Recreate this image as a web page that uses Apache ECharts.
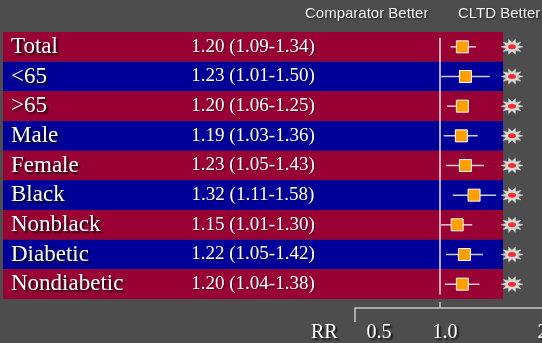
<!DOCTYPE html>
<html>
<head>
<meta charset="utf-8">
<script src="https://cdn.jsdelivr.net/npm/echarts@6/dist/echarts.min.js"></script>
<style>
  html, body { margin: 0; padding: 0; background: #4d4d4d; }
  #chart { width: 542px; height: 343px; }
</style>
</head>
<body>
<div id="chart"></div>
<script>
// Subgroup rows of the forest plot
const rows = ['Total', '<65', '>65', 'Male', 'Female', 'Black', 'Nonblack', 'Diabetic', 'Nondiabetic'];
// Relative risk and its 95% interval per row
const rr   = [1.20, 1.23, 1.20, 1.19, 1.23, 1.32, 1.15, 1.22, 1.20];
const ciLo = [1.09, 1.01, 1.06, 1.03, 1.05, 1.11, 1.01, 1.05, 1.04];
const ciHi = [1.34, 1.50, 1.25, 1.36, 1.43, 1.58, 1.30, 1.42, 1.38];
// Rows flagged with the burst marker
const flagged = [true, true, true, true, true, true, true, true, true];
// Axis text
const axisTitle = 'RR';
const leftHeader = 'Comparator Better';
const rightHeader = 'CLTD Better';
const refValue = 1;

const CRIMSON = '#990033';
const NAVY = '#000099';
const SERIF = "'Liberation Serif', 'Times New Roman', serif";
const SANS = "'Liberation Sans', Arial, sans-serif";
const AXIS_MIN = 0.5, AXIS_MAX = 2.297;

// spiky burst outline for the flag marker
function burstPath(n, rIn) {
  let d = '';
  for (let k = 0; k < 2 * n; k++) {
    const r = k % 2 ? rIn : 1;
    const a = Math.PI * k / n;
    d += (k ? 'L' : 'M') + (50 + 50 * r * Math.cos(a)).toFixed(2) + ' ' + (50 + 50 * r * Math.sin(a)).toFixed(2);
  }
  return 'path://' + d + 'Z';
}

const shadow = { textShadowColor: 'rgba(0,0,0,0.85)', textShadowBlur: 2, textShadowOffsetX: 2, textShadowOffsetY: 2 };
const headerStyle = { color: '#f2f2f2', fontFamily: SANS, fontSize: 15, fontWeight: 'normal',
  textShadowColor: 'rgba(0,0,0,0.6)', textShadowBlur: 2, textShadowOffsetX: 1, textShadowOffsetY: 1 };
const fmt = v => v.toFixed(2);
const rowIdx = rows.map((_, i) => i);

// horizontal nudges for the tick labels
const tickRich = {
  a: { padding: [0, 0, 0, 48] },
  b: { padding: [0, 0, 0, 10] },
  c: { padding: [0, 0, 0, 50] }
};
function tickKey(v) { return v < 0.9 ? 'a' : (v < 1.5 ? 'b' : 'c'); }

const chart = echarts.init(document.getElementById('chart'), null, { renderer: 'canvas' });
chart.setOption({
  backgroundColor: '#4d4d4d',
  animation: false,
  title: [
    { text: leftHeader, left: 305, top: 6, padding: 0, textStyle: headerStyle },
    { text: rightHeader, left: 458, top: 6, padding: 0, textStyle: headerStyle },
    { text: axisTitle, left: 311, top: 323, padding: 0,
      textStyle: Object.assign({ color: '#ffffff', fontFamily: SERIF, fontSize: 20, fontWeight: 'normal' }, shadow) }
  ],
  grid: [
    { left: 3, top: 32, width: 500, height: 267, outerBoundsMode: 'none' },
    { left: 355, right: 0, top: 32, height: 267, outerBoundsMode: 'none' },
    { left: 501, width: 22, top: 32, height: 267, outerBoundsMode: 'none' }
  ],
  xAxis: [
    { gridIndex: 0, type: 'value', min: 0, max: 1, show: false },
    {
      gridIndex: 1, type: 'log', logBase: 2, min: AXIS_MIN, max: AXIS_MAX,
      position: 'bottom', offset: 9, z: 10,
      axisLine: { show: true, onZero: false, lineStyle: { color: '#c8c8c8', width: 1.5 } },
      axisTick: { show: true, inside: true, length: 6, customValues: [refValue],
        lineStyle: { color: '#c8c8c8', width: 1.5 } },
      axisLabel: Object.assign({
        color: '#ffffff', fontFamily: SERIF, fontSize: 20, margin: 15,
        showMaxLabel: false,
        formatter: v => '{' + tickKey(v) + '|' + v.toFixed(1) + '}',
        rich: tickRich
      }, shadow),
      splitLine: { show: false }
    },
    {
      // end stop of the axis, dropping below the line
      gridIndex: 1, type: 'log', logBase: 2, min: AXIS_MIN, max: AXIS_MAX,
      position: 'top', offset: -276, z: 10,
      axisLine: { show: false, onZero: false },
      axisTick: { show: true, inside: true, length: 14, customValues: [AXIS_MIN],
        lineStyle: { color: '#c8c8c8', width: 1.5 } },
      axisLabel: { show: false },
      splitLine: { show: false }
    },
    { gridIndex: 2, type: 'value', min: 0, max: 1, show: false }
  ],
  yAxis: [
    {
      gridIndex: 0, type: 'category', inverse: true, data: rows, z: 10,
      axisLine: { show: false }, axisTick: { show: false },
      axisLabel: Object.assign({ inside: true, interval: 0, margin: 8, color: '#ffffff',
        fontFamily: SERIF, fontSize: 23 }, shadow)
    },
    { gridIndex: 1, type: 'value', inverse: true, min: -0.5, max: 8.5, show: false },
    { gridIndex: 2, type: 'value', inverse: true, min: -0.5, max: 8.5, show: false }
  ],
  series: [
    {
      // alternating row bands carrying the estimate text
      type: 'bar', xAxisIndex: 0, yAxisIndex: 0,
      barWidth: '100%',
      data: rows.map((_, i) => ({ value: 1, itemStyle: { color: i % 2 ? NAVY : CRIMSON } })),
      label: {
        show: true, position: 'inside', color: '#ffffff', fontFamily: SERIF, fontSize: 19,
        textShadowColor: 'rgba(0,0,0,0.45)', textShadowBlur: 1, textShadowOffsetX: 1, textShadowOffsetY: 1,
        formatter: p => fmt(rr[p.dataIndex]) + ' (' + fmt(ciLo[p.dataIndex]) + '-' + fmt(ciHi[p.dataIndex]) + ')'
      },
      silent: true, z: 1
    },
    {
      // confidence interval whiskers
      type: 'custom', xAxisIndex: 1, yAxisIndex: 1,
      data: rowIdx.map(i => [i, ciLo[i], ciHi[i]]),
      encode: { x: [1, 2], y: 0 },
      renderItem: (params, api) => {
        const a = api.coord([api.value(1), api.value(0)]);
        const b = api.coord([api.value(2), api.value(0)]);
        return { type: 'line', shape: { x1: a[0], y1: a[1], x2: b[0], y2: b[1] },
          style: { stroke: 'rgba(255,255,255,0.8)', lineWidth: 1.5 } };
      },
      silent: true, z: 3
    },
    {
      // point estimates
      type: 'scatter', xAxisIndex: 1, yAxisIndex: 1,
      data: rowIdx.map(i => [rr[i], i]),
      symbol: 'rect', symbolSize: 12,
      itemStyle: { color: '#ffa000', borderColor: '#ffffff', borderWidth: 1, opacity: 1 },
      markLine: {
        silent: true, symbol: 'none', label: { show: false },
        lineStyle: { color: '#e6e6e6', width: 1.5, type: 'solid' },
        data: [[{ coord: [refValue, -0.3] }, { coord: [refValue, 8.35] }]]
      },
      z: 4
    },
    {
      // burst markers
      type: 'scatter', xAxisIndex: 3, yAxisIndex: 2,
      data: rowIdx.filter(i => flagged[i]).map(i => [0.5, i]),
      symbol: burstPath(10, 0.55), symbolSize: [22, 15], symbolKeepAspect: false,
      itemStyle: { color: '#ffffff', borderColor: '#e0e0e0', borderWidth: 0.5 },
      silent: true, z: 4
    },
    {
      type: 'scatter', xAxisIndex: 3, yAxisIndex: 2,
      data: rowIdx.filter(i => flagged[i]).map(i => [0.5, i]),
      symbol: 'circle', symbolSize: [8, 5],
      itemStyle: { color: '#ff0000' },
      silent: true, z: 5
    }
  ]
});
</script>
</body>
</html>
